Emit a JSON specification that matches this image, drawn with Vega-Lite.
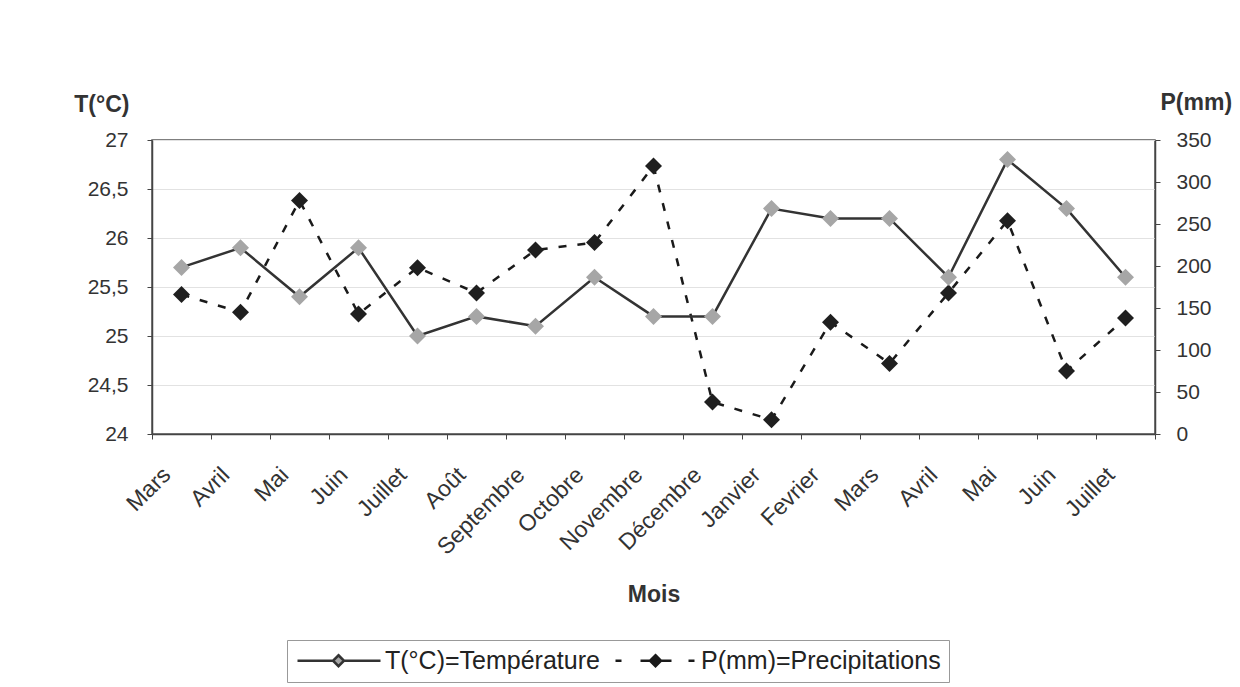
{
  "$schema": "https://vega.github.io/schema/vega-lite/v6.json",
  "width": 1003,
  "height": 294,
  "autosize": "none",
  "padding": {"left": 152, "top": 140, "right": 85, "bottom": 253},
  "background": "white",
  "config": {
    "font": "Liberation Sans",
    "view": {"stroke": "#555555", "strokeWidth": 1.5},
    "axis": {
      "labelFont": "Liberation Sans",
      "titleFont": "Liberation Sans",
      "labelColor": "#333333",
      "titleColor": "#333333",
      "labelFontSize": 21,
      "titleFontSize": 23,
      "titleFontWeight": "bold",
      "domainColor": "#444444",
      "domainWidth": 1.5,
      "tickColor": "#444444",
      "tickWidth": 1,
      "tickSize": 5
    }
  },
  "data": {
    "values": [
      {"i": 0, "key": "Mars|a", "mois": "Mars", "T": 25.7, "P": 166},
      {"i": 1, "key": "Avril|a", "mois": "Avril", "T": 25.9, "P": 145},
      {"i": 2, "key": "Mai|a", "mois": "Mai", "T": 25.4, "P": 278},
      {"i": 3, "key": "Juin|a", "mois": "Juin", "T": 25.9, "P": 143},
      {"i": 4, "key": "Juillet|a", "mois": "Juillet", "T": 25.0, "P": 198},
      {"i": 5, "key": "Août|a", "mois": "Août", "T": 25.2, "P": 168},
      {"i": 6, "key": "Septembre|a", "mois": "Septembre", "T": 25.1, "P": 219},
      {"i": 7, "key": "Octobre|a", "mois": "Octobre", "T": 25.6, "P": 228},
      {"i": 8, "key": "Novembre|a", "mois": "Novembre", "T": 25.2, "P": 319},
      {"i": 9, "key": "Décembre|a", "mois": "Décembre", "T": 25.2, "P": 38},
      {"i": 10, "key": "Janvier|b", "mois": "Janvier", "T": 26.3, "P": 17},
      {"i": 11, "key": "Fevrier|b", "mois": "Fevrier", "T": 26.2, "P": 133},
      {"i": 12, "key": "Mars|b", "mois": "Mars", "T": 26.2, "P": 84},
      {"i": 13, "key": "Avril|b", "mois": "Avril", "T": 25.6, "P": 168},
      {"i": 14, "key": "Mai|b", "mois": "Mai", "T": 26.8, "P": 254},
      {"i": 15, "key": "Juin|b", "mois": "Juin", "T": 26.3, "P": 75},
      {"i": 16, "key": "Juillet|b", "mois": "Juillet", "T": 25.6, "P": 138}
    ]
  },
  "encoding": {
    "x": {
      "field": "key",
      "type": "ordinal",
      "sort": {"field": "i", "op": "min"},
      "scale": {"type": "band", "paddingInner": 0, "paddingOuter": 0},
      "axis": {
        "title": "Mois",
        "titleY": 160,
        "titleBaseline": "middle",
        "labelExpr": "isString(datum.value) ? split(datum.value, '|')[0] : ''",
        "labelAngle": -45,
        "labelAlign": "right",
        "labelBaseline": "middle",
        "labelFontSize": 23,
        "labelPadding": 32,
        "labelOffset": -15,
        "labelOverlap": false,
        "labelBound": false,
        "tickBand": "extent",
        "grid": false
      }
    }
  },
  "layer": [
    {
      "encoding": {
        "y": {
          "field": "P",
          "type": "quantitative",
          "scale": {"domain": [0, 350], "nice": false, "zero": true},
          "axis": {
            "orient": "right",
            "title": "P(mm)",
            "titleAngle": 0,
            "titleX": 5,
            "titleY": -38,
            "titleAlign": "left",
            "titleBaseline": "middle",
            "values": [0, 50, 100, 150, 200, 250, 300, 350],
            "labelPadding": 16,
            "grid": false
          }
        }
      },
      "layer": [
        {
          "mark": {"type": "line", "strokeWidth": 2.5, "strokeDash": [8, 11]},
          "encoding": {
            "color": {"datum": "P(mm)=Precipitations", "type": "nominal"}
          }
        },
        {
          "mark": {"type": "point", "shape": "diamond", "filled": true, "size": 289, "fill": "#1f1f1f", "opacity": 1, "strokeWidth": 0}
        }
      ]
    },
    {
      "encoding": {
        "y": {
          "field": "T",
          "type": "quantitative",
          "scale": {"domain": [24, 27], "nice": false, "zero": false},
          "axis": {
            "orient": "left",
            "title": "T(°C)",
            "titleAngle": 0,
            "titleX": -23,
            "titleY": -36,
            "titleAlign": "right",
            "titleBaseline": "middle",
            "values": [24, 24.5, 25, 25.5, 26, 26.5, 27],
            "format": ".1~f",
            "labelExpr": "replace(datum.label, '.', ',')",
            "labelPadding": 19,
            "grid": true,
            "gridColor": "#e2e2e2",
            "gridWidth": 1
          }
        }
      },
      "layer": [
        {
          "mark": {"type": "line", "strokeWidth": 2.5},
          "encoding": {
            "color": {
              "datum": "T(°C)=Température",
              "type": "nominal",
              "scale": {
                "domain": ["T(°C)=Température", "P(mm)=Precipitations"],
                "range": ["#333333", "#1a1a1a"]
              },
              "legend": {
                "title": null,
                "orient": "none",
                "legendX": 135,
                "legendY": 500,
                "direction": "horizontal",
                "symbolSize": 400,
                "symbolStrokeWidth": 2.5,
                "symbolType": "M-1,0H7.3",
                "labelFontSize": 25,
                "labelLimit": 500,
                "labelColor": "#222222",
                "labelFont": "Liberation Sans",
                "labelOffset": 65,
                "columnPadding": 10,
                "padding": 8,
                "strokeColor": "#999999",
                "fillColor": "white",
                "encode": {
                  "symbols": {
                    "update": {
                      "shape": {"signal": "datum.value === 'P(mm)=Precipitations' ? 'M-0.8,0H-0.2M1.7,0H2.65M3.75,0H4.8M6.5,0H7.1M3.2,-0.55L3.75,0L3.2,0.55L2.65,0Z' : 'M-1,0H2.55M3.65,0H7.3M3.1,-0.55L3.65,0L3.1,0.55L2.55,0Z'"},
                      "fill": {"signal": "datum.value === 'P(mm)=Precipitations' ? '#1a1a1a' : '#a6a6a6'"},
                      "strokeDash": {"value": []}
                    }
                  }
                }
              }
            }
          }
        },
        {
          "mark": {"type": "point", "shape": "diamond", "filled": true, "size": 289, "fill": "#a6a6a6", "opacity": 1, "strokeWidth": 0}
        }
      ]
    }
  ],
  "resolve": {"scale": {"y": "independent"}}
}
